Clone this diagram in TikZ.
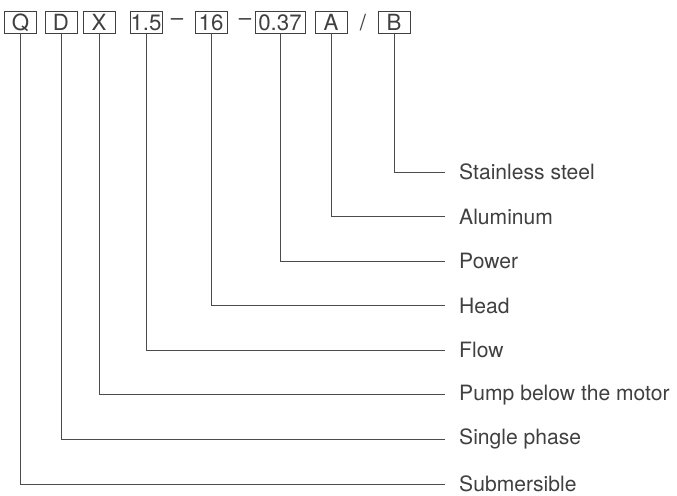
\documentclass[tikz,border=0pt]{standalone}
\usepackage{fontspec}
\setmainfont{TeX Gyre Heros}
\usetikzlibrary{positioning}

\tikzset{
  code/.style = {draw = black!75, line width = 0.7pt, minimum height = 0.64cm,
    minimum width = 0.96cm, inner sep = 0.5pt, text = black!75,
    font = \fontsize{19}{21}\selectfont},
  sep/.style = {text = black!75, font = \fontsize{19}{21}\selectfont},
  meaning/.style = {anchor = west, inner xsep = 0.42cm, text = black!75,
    font = \fontsize{18}{21}\selectfont},
  lead/.style = {draw = black!70, line width = 0.75pt}
}

\begin{document}
\begin{tikzpicture}[x = 0.3mm, y = -0.3mm]
  \useasboundingbox (0, 0) rectangle (677, 496);

  % the type code
  \node[code] (q) at (20.5, 22.5) {Q};
  \node[code] (d) at (61, 22.5) {D};
  \node[code] (x) at (99, 22.5) {X};
  \node[code] (flow) at (146, 22.5) {1.5};
  \node[sep] (dash1) at (177, 22.5) {--};
  \node[code] (head) at (211, 22.5) {16};
  \node[sep] (dash2) at (245, 22.5) {--};
  \node[code, minimum width = 1.5cm] (power) at (280, 22.5) {0.37};
  \node[code] (a) at (331, 22.5) {A};
  \node[sep] (slash) at (363, 22.5) {/};
  \node[code] (b) at (394, 22.5) {B};

  % meanings
  \node[meaning] (steel) at (445, 172) {Stainless steel};
  \node[meaning] (alu) at (445, 216.6) {Aluminum};
  \node[meaning] (kw) at (445, 261.1) {Power};
  \node[meaning] (m) at (445, 305.7) {Head};
  \node[meaning] (q3) at (445, 350.3) {Flow};
  \node[meaning] (pump) at (445, 394.9) {Pump below the motor};
  \node[meaning] (phase) at (445, 439.4) {Single phase};
  \node[meaning] (sub) at (445, 484) {Submersible};

  \draw[lead] (b.south) |- (steel.west);
  \draw[lead] (a.south) |- (alu.west);
  \draw[lead] (power.south) |- (kw.west);
  \draw[lead] (head.south) |- (m.west);
  \draw[lead] (flow.south) |- (q3.west);
  \draw[lead] (x.south) |- (pump.west);
  \draw[lead] (d.south) |- (phase.west);
  \draw[lead] (q.south) |- (sub.west);
\end{tikzpicture}
\end{document}
